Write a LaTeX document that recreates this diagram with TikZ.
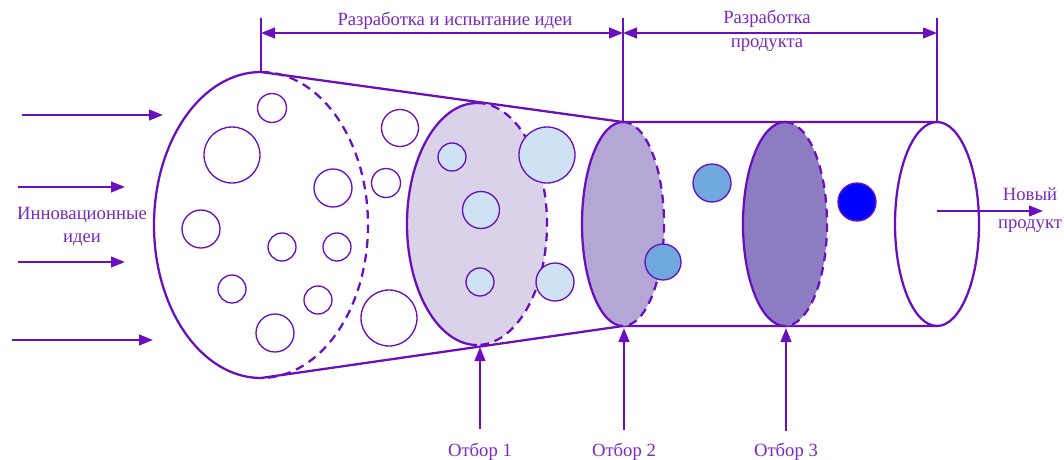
\documentclass[tikz,border=0pt]{standalone}
\usepackage{fontspec}
\setmainfont{Liberation Serif}
\usetikzlibrary{arrows.meta}
\definecolor{ln}{RGB}{106,14,192}
\definecolor{tx}{RGB}{122,40,192}
\definecolor{fillA}{RGB}{217,210,233}
\definecolor{fillB}{RGB}{180,167,214}
\definecolor{fillC}{RGB}{142,124,195}
\definecolor{lblue}{RGB}{207,226,243}
\definecolor{mblue}{RGB}{111,168,220}
\definecolor{dblue}{RGB}{0,0,255}
\tikzset{
  main/.style={draw=ln, line width=1.7pt},
  thin/.style={draw=ln, line width=0.8pt},
  bub/.style={draw=ln, line width=1.0pt},
  dsh/.style={draw=ln, line width=1.7pt, dash pattern=on 6.5pt off 4.5pt},
  arr/.style={draw=ln, line width=1.7pt, -{Triangle[length=10.5pt,width=8pt]}},
  dim/.style={draw=ln, line width=1.7pt, {Triangle[length=10.5pt,width=8pt]}-{Triangle[length=10.5pt,width=8pt]}},
  lbl/.style={text=tx, font=\fontsize{14}{18}\selectfont, align=center, inner sep=0pt},
}
\begin{document}
\begin{tikzpicture}[x=0.75pt,y=-0.75pt]
\useasboundingbox (0,0) rectangle (1064,460);
% key points
\coordinate (T0) at (261,72);
\coordinate (B0) at (261,378);
\coordinate (T2) at (623,122);
\coordinate (B2) at (623,326);
\coordinate (T4) at (937,122);
\coordinate (B4) at (937,326);
% funnel and cylinder
\draw[main] (T0) -- (T2) -- (T4);
\draw[main] (B0) -- (B2) -- (B4);
% big ellipse
\draw[main] (T0) arc[start angle=270,end angle=90,x radius=107,y radius=153];
\draw[dsh] (T0) arc[start angle=-90,end angle=90,x radius=107,y radius=153];
% bubbles in funnel
\foreach \x/\y/\r [count=\i] in {272/108/14.5,232/155/28,333/188/19,201/229/19,282/247/14,337/247/14,232/289/14,318/300/14,275/333/19,400/128/18.5,386/183/14.5,389/318/28}
  \node[bub, circle, fill=white, minimum size=2*\r*0.75pt, inner sep=0pt] (w\i) at (\x,\y) {};
% ellipse 1
\fill[fillA] (477,224) ellipse[x radius=70,y radius=121];
\draw[main] (477,103) arc[start angle=270,end angle=90,x radius=70,y radius=121];
\draw[dsh] (477,103) arc[start angle=-90,end angle=90,x radius=70,y radius=121];
\foreach \x/\y/\r [count=\i] in {452/157/14,481/210/18.5,480/282/14,547/155/28,555/282/19}
  \node[bub, circle, fill=lblue, minimum size=2*\r*0.75pt, inner sep=0pt] (lb\i) at (\x,\y) {};
% ellipse 2
\fill[fillB] (623,224) ellipse[x radius=41,y radius=102];
\draw[main] (T2) arc[start angle=270,end angle=90,x radius=41,y radius=102];
\draw[dsh] (T2) arc[start angle=-90,end angle=90,x radius=41,y radius=102];
\node[bub, circle, fill=mblue, minimum size=36*0.75pt, inner sep=0pt] (mb1) at (663,262) {};
\node[bub, circle, fill=mblue, minimum size=38*0.75pt, inner sep=0pt] (mb2) at (712,183) {};
% ellipse 3
\fill[fillC] (785,224) ellipse[x radius=42,y radius=102];
\draw[main] (785,122) arc[start angle=270,end angle=90,x radius=42,y radius=102];
\draw[dsh] (785,122) arc[start angle=-90,end angle=90,x radius=42,y radius=102];
\node[bub, circle, fill=dblue, minimum size=38*0.75pt, inner sep=0pt] (db) at (857,202) {};
% end ellipse
\draw[main] (937,224) ellipse[x radius=42,y radius=102];
% dimension lines
\coordinate (d0) at (261,18);
\coordinate (d2) at (623,18);
\coordinate (d4) at (937,18);
\draw[thin] (d0) -- (T0);
\draw[thin] (d2) -- (T2);
\draw[thin] (d4) -- (T4);
\coordinate (a0) at (261,33);
\coordinate (a2) at (623,33);
\coordinate (a4) at (937,33);
\draw[dim] (a0) -- (a2);
\draw[dim] (a2) -- (a4);
\node[lbl] (lab1) at (455,21) {Разработка и испытание идеи};
\node[lbl] (lab2) at (767,31) {Разработка\\продукта};
% input arrows
\coordinate (i1s) at (22,115);  \coordinate (i1e) at (163,115);
\coordinate (i2s) at (18,187);  \coordinate (i2e) at (125,187);
\coordinate (i3s) at (18,262);  \coordinate (i3e) at (125,262);
\coordinate (i4s) at (12,340);  \coordinate (i4e) at (153,340);
\draw[arr] (i1s) -- (i1e);
\draw[arr] (i2s) -- (i2e);
\draw[arr] (i3s) -- (i3e);
\draw[arr] (i4s) -- (i4e);
\node[lbl, font=\fontsize{14}{17}\selectfont] (inn) at (82,227) {Инновационные\\идеи};
% output
\coordinate (os) at (937,211);
\coordinate (oe) at (1043,211);
\draw[arr] (os) -- (oe);
\node[lbl, font=\fontsize{14}{20.5}\selectfont] (out) at (1030,210) {Новый\\продукт};
% selections
\node[lbl] (s1) at (480,452) {Отбор 1};
\node[lbl] (s2) at (624,452) {Отбор 2};
\node[lbl] (s3) at (786,452) {Отбор 3};
\coordinate (s1t) at (480,347);
\coordinate (s2t) at (624,328);
\coordinate (s3t) at (786,328);
\draw[arr] (480,429) -- (s1t);
\draw[arr] (624,430) -- (s2t);
\draw[arr] (786,431) -- (s3t);
\end{tikzpicture}
\end{document}
